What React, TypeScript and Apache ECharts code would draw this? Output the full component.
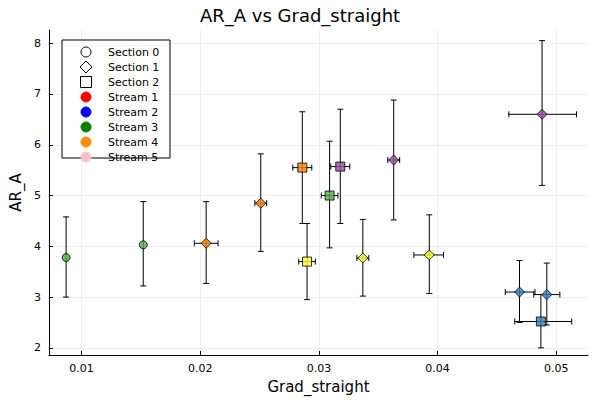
import React, { useEffect, useRef } from 'react';
import * as echarts from 'echarts';

// one entry per point
const xs = [0.0087, 0.0152, 0.0205, 0.0251, 0.0286, 0.029, 0.0309, 0.0318, 0.0337, 0.0363, 0.0393, 0.0488, 0.0469, 0.0492, 0.0487];
const ys = [3.78, 4.03, 4.06, 4.85, 5.55, 3.7, 5.0, 5.57, 3.77, 5.7, 3.83, 6.6, 3.1, 3.05, 2.52];
const xLo = [0.0087, 0.0152, 0.0195, 0.0246, 0.0278, 0.0283, 0.0302, 0.031, 0.0332, 0.0358, 0.038, 0.046, 0.0457, 0.0481, 0.0465];
const xHi = [0.0087, 0.0152, 0.0215, 0.0256, 0.0294, 0.0297, 0.0316, 0.0326, 0.0342, 0.0368, 0.0405, 0.0517, 0.0482, 0.0503, 0.0513];
const yLo = [3.0, 3.22, 3.27, 3.9, 4.45, 2.95, 3.97, 4.45, 3.02, 4.52, 3.07, 5.2, 2.5, 2.45, 2.0];
const yHi = [4.58, 4.88, 4.88, 5.82, 6.65, 4.45, 6.07, 6.7, 4.53, 6.88, 4.62, 8.05, 3.72, 3.67, 3.05];
const shapes = ['circle', 'circle', 'diamond', 'diamond', 'rect', 'rect', 'rect', 'rect', 'diamond', 'diamond', 'diamond', 'diamond', 'diamond', 'diamond', 'rect'];
const colors = ['#4daf4a', '#4daf4a', '#ff7f00', '#ff7f00', '#ff7f00', '#ffff33', '#4daf4a', '#984ea3', '#ffff33', '#984ea3', '#ffff33', '#984ea3', '#377eb8', '#377eb8', '#377eb8'];

const xTicks = [0.01, 0.02, 0.03, 0.04, 0.05];
const yTicks = [2, 3, 4, 5, 6, 7, 8];

const sectionNames = ['Section 0', 'Section 1', 'Section 2'];
const sectionShapes = ['circle', 'diamond', 'rect'];
const streamNames = ['Stream 1', 'Stream 2', 'Stream 3', 'Stream 4', 'Stream 5'];
const streamColors = ['red', 'blue', 'green', 'darkorange', 'pink'];

const font = 'DejaVu Sans';

export default function App() {
  const ref = useRef<HTMLDivElement>(null);

  useEffect(() => {
    document.body.style.margin = '0';
    const chart = echarts.init(ref.current, null, { renderer: 'svg' });

    const legendEls: any[] = [];
    const rowH = 15;
    const lx = 62, ly = 40;
    legendEls.push({ type: 'rect', z: 100, shape: { x: lx, y: ly, width: 108, height: 118 }, style: { fill: '#fff', stroke: '#000', lineWidth: 1 } });
    const rows = [
      ...sectionNames.map((n, i) => ({ n, shape: sectionShapes[i], color: '#fff' })),
      ...streamNames.map((n, i) => ({ n, shape: 'circle', color: streamColors[i] })),
    ];
    rows.forEach((r, i) => {
      const cy = ly + 12 + i * rowH;
      const cx = 86;
      if (r.shape === 'circle') {
        legendEls.push({ type: 'circle', z: 101, shape: { cx, cy, r: 5 }, style: { fill: r.color, stroke: r.color === '#fff' ? '#000' : r.color } });
      } else if (r.shape === 'diamond') {
        legendEls.push({ type: 'polygon', z: 101, shape: { points: [[cx, cy - 6], [cx + 6, cy], [cx, cy + 6], [cx - 6, cy]] }, style: { fill: '#fff', stroke: '#000' } });
      } else {
        legendEls.push({ type: 'rect', z: 101, shape: { x: cx - 5.5, y: cy - 5.5, width: 11, height: 11 }, style: { fill: '#fff', stroke: '#000' } });
      }
      legendEls.push({ type: 'text', z: 101, x: 108, y: cy, style: { text: r.n, font: `11px "${font}"`, fill: '#000', verticalAlign: 'middle' } });
    });

    const errData = xs.map((x, i) => [x, ys[i], xLo[i], xHi[i], yLo[i], yHi[i]]);

    chart.setOption({
      animation: false,
      title: { text: 'AR_A vs Grad_straight', left: 'center', top: 1, textStyle: { fontFamily: font, fontWeight: 'normal', fontSize: 18, color: '#000' } },
      grid: { left: 43, right: 12, top: 30, bottom: 45 },
      xAxis: {
        type: 'value', min: 0.00725, max: 0.05267,
        name: 'Grad_straight', nameLocation: 'middle', nameGap: 24,
        nameTextStyle: { fontFamily: font, fontSize: 15, color: '#000' },
        axisLine: { lineStyle: { color: '#000' } },
        axisTick: { inside: true, length: 4, lineStyle: { color: '#000' }, customValues: xTicks },
        axisLabel: { fontFamily: font, fontSize: 11, color: '#000', customValues: xTicks, formatter: (v: number) => String(+v.toFixed(2)) },
        splitLine: { show: true, lineStyle: { color: '#eee' } },
      },
      yAxis: {
        type: 'value', min: 1.86, max: 8.26,
        name: 'AR_A', nameLocation: 'middle', nameGap: 24,
        nameTextStyle: { fontFamily: font, fontSize: 15, color: '#000' },
        axisLine: { show: true, lineStyle: { color: '#000' } },
        axisTick: { show: true, inside: true, length: 4, lineStyle: { color: '#000' }, customValues: yTicks },
        axisLabel: { fontFamily: font, fontSize: 11, color: '#000', customValues: yTicks },
        splitLine: { show: true, lineStyle: { color: '#eee' } },
      },
      graphic: { elements: legendEls },
      series: [
        {
          type: 'custom',
          data: errData,
          renderItem: (params: any, api: any) => {
            const x = api.value(0), y = api.value(1);
            const c = api.coord([x, y]);
            const l = api.coord([api.value(2), y]);
            const r = api.coord([api.value(3), y]);
            const b = api.coord([x, api.value(4)]);
            const t = api.coord([x, api.value(5)]);
            const st = { stroke: '#000', lineWidth: 1 };
            const cap = 3;
            const children: any[] = [
              { type: 'line', shape: { x1: c[0], y1: b[1], x2: c[0], y2: t[1] }, style: st },
              { type: 'line', shape: { x1: c[0] - cap, y1: b[1], x2: c[0] + cap, y2: b[1] }, style: st },
              { type: 'line', shape: { x1: c[0] - cap, y1: t[1], x2: c[0] + cap, y2: t[1] }, style: st },
            ];
            if (r[0] - l[0] > 1) {
              children.push(
                { type: 'line', shape: { x1: l[0], y1: c[1], x2: r[0], y2: c[1] }, style: st },
                { type: 'line', shape: { x1: l[0], y1: c[1] - cap, x2: l[0], y2: c[1] + cap }, style: st },
                { type: 'line', shape: { x1: r[0], y1: c[1] - cap, x2: r[0], y2: c[1] + cap }, style: st },
              );
            }
            return { type: 'group', children };
          },
          z: 1,
        },
        {
          type: 'scatter',
          data: xs.map((x, i) => ({
            value: [x, ys[i]],
            symbol: shapes[i],
            symbolSize: shapes[i] === 'circle' ? 8 : shapes[i] === 'diamond' ? 10 : 9,
            itemStyle: { color: colors[i], borderColor: '#000', borderWidth: 1 },
          })),
          z: 2,
        },
      ],
    });
    return () => chart.dispose();
  }, []);

  return <div ref={ref} style={{ width: 600, height: 400 }} />;
}
